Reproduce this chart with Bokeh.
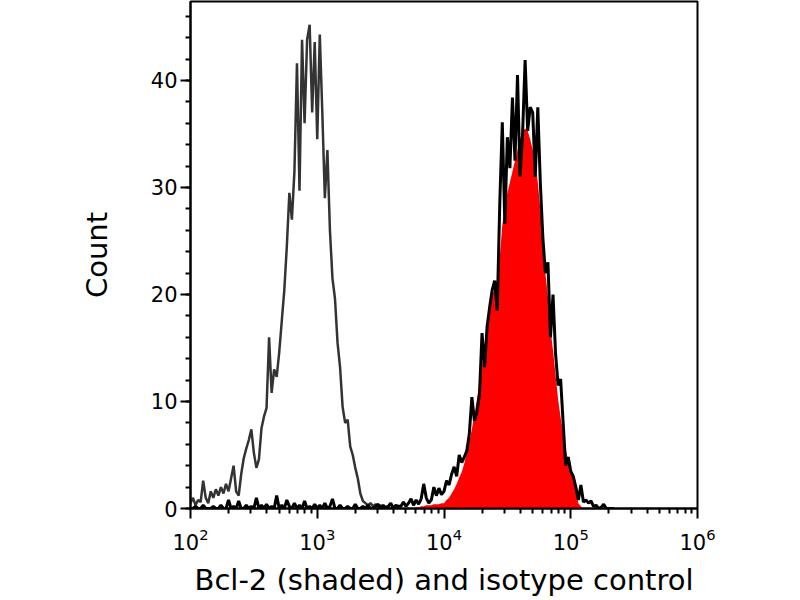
import numpy as np
from bokeh.plotting import figure
from bokeh.models import FixedTicker, SingleIntervalTicker
from bokeh.embed import file_html
from bokeh.resources import INLINE

# ---- data (counts per log-channel) ----
log_start = 2.0      # first channel at 10^2
log_step = 0.02      # channel width in decades

isotype_counts = [
    0.5, 1.0, 0.3, 0.8, 0.6, 2.6, 1.0, 0.5, 1.6, 1.0,
    1.8, 1.2, 2.0, 1.4, 2.3, 1.6, 2.8, 4.0, 1.6, 1.2,
    3.2, 4.7, 5.6, 6.4, 7.4, 5.2, 3.8, 4.6, 7.5, 8.6,
    9.4, 16.0, 10.8, 13.0, 12.3, 14.6, 17.5, 20.4, 24.5, 29.5,
    27.0, 31.5, 41.6, 29.7, 43.8, 36.0, 43.8, 45.2, 37.0, 43.6,
    34.5, 44.3, 37.0, 29.0, 33.5, 26.0, 21.5, 19.6, 15.5, 13.2,
    9.5, 8.0, 8.3, 5.8, 5.0, 3.8, 2.8, 1.4, 0.7, 0.5,
    0.3, 0.5, 0.2, 0.4, 0.1, 0.3, 0.0, 0.2, 0.1, 0.0,
    0.2, 0.0, 0.0,
]

bcl2_counts = [
    0.0, 0.0, 0.2, 0.0, 0.0, 0.3, 0.0, 0.0, 0.0, 0.2,
    0.0, 0.0, 0.3, 0.0, 0.0, 0.8, 0.0, 0.2, 0.0, 0.7,
    0.0, 0.0, 0.3, 0.0, 0.2, 0.0, 1.0, 0.0, 0.3, 0.0,
    0.4, 0.0, 0.2, 0.0, 1.2, 0.0, 0.3, 0.0, 0.8, 0.2,
    0.0, 0.5, 0.0, 0.3, 0.0, 0.7, 0.0, 0.2, 0.0, 0.4,
    0.0, 0.3, 0.0, 0.5, 0.0, 0.2, 0.9, 0.0, 0.0, 0.3,
    0.0, 0.0, 0.2, 0.0, 0.0, 0.4, 0.0, 0.0, 0.2, 0.0,
    0.3, 0.0, 0.0, 0.2, 0.4, 0.0, 0.3, 0.0, 0.2, 0.5,
    0.0, 0.3, 0.2, 0.2, 0.6, 0.2, 0.5, 0.9, 0.3, 0.8,
    0.4, 0.9, 2.3, 1.0, 0.5, 0.8, 2.0, 1.2, 1.9, 1.3,
    1.6, 2.6, 2.2, 3.2, 3.9, 3.0, 5.0, 4.3, 4.8, 5.4,
    7.0, 10.4, 8.2, 9.0, 10.7, 16.4, 13.2, 17.0, 18.8, 20.4,
    21.3, 18.5, 28.5, 36.1, 26.6, 34.7, 31.8, 38.4, 32.5, 40.5,
    31.0, 35.0, 41.9, 35.3, 37.5, 37.0, 31.0, 37.5, 30.4, 25.3,
    22.0, 23.0, 16.0, 20.0, 14.5, 11.5, 12.1, 8.0, 4.0, 4.8,
    3.5, 3.0, 2.0, 0.8, 2.2, 0.6, 0.8, 0.5, 0.7, 0.2,
    0.3, 0.0, 0.1, 0.4, 0.0, 0.0, 0.0, 0.0,
]

bcl2_fill_first = 88   # channel index where the shaded curve starts
bcl2_fill = [
    0.0, 0.1, 0.1, 0.2, 0.2, 0.3, 0.3, 0.3, 0.4, 0.4,
    0.4, 0.5, 0.5, 0.8, 1.0, 1.4, 1.8, 2.3, 2.9, 3.4,
    4.2, 5.2, 6.3, 7.4, 8.8, 10.2, 11.8, 13.4, 15.0, 16.6,
    18.5, 20.0, 20.5, 21.0, 23.5, 26.5, 28.0, 29.5, 30.5, 31.5,
    32.5, 33.5, 34.5, 35.2, 35.5, 35.3, 34.5, 33.5, 32.0, 30.5,
    28.0, 25.0, 22.0, 19.8, 16.8, 14.8, 12.5, 10.2, 8.5, 7.0,
    5.5, 4.5, 3.8, 2.8, 1.6, 0.5, 0.2, 0.0,
]

x_ticks = [1e2, 1e3, 1e4, 1e5, 1e6]
y_tick_interval = 10

# ---- positions of channels ----
x_iso = 10 ** (log_start + log_step * np.arange(len(isotype_counts)))
x_bcl = 10 ** (log_start + log_step * np.arange(len(bcl2_counts)))
x_fill = 10 ** (log_start + log_step * (bcl2_fill_first + np.arange(len(bcl2_fill))))

FONT = "DejaVu Sans"

p = figure(
    x_axis_type="log", x_range=(1e2, 1e6), y_range=(0, 47.38),
    frame_width=507, frame_height=507,
    min_border_left=190, min_border_top=1, min_border_right=90, min_border_bottom=80,
    output_backend="svg", toolbar_location=None,
    background_fill_color="white", border_fill_color="white",
)
p.outline_line_color = "black"
p.outline_line_width = 2
p.xgrid.visible = False
p.ygrid.visible = False

p.line(x_iso, isotype_counts, line_color="#333333", line_width=2.5)
p.varea(x=x_fill, y1=np.zeros(len(bcl2_fill)), y2=bcl2_fill, fill_color="#ff0000")
p.line(x_bcl, bcl2_counts, line_color="black", line_width=3)

minor = [m * t for t in x_ticks[:-1] for m in range(2, 10)]
p.xaxis.ticker = FixedTicker(ticks=x_ticks, minor_ticks=minor)
p.yaxis.ticker = SingleIntervalTicker(interval=y_tick_interval, num_minor_ticks=5)

for ax in (p.xaxis[0], p.yaxis[0]):
    ax.axis_line_width = 2
    ax.axis_line_color = "black"
    ax.major_tick_line_width = 2
    ax.minor_tick_line_width = 2
    ax.major_tick_in = 0
    ax.major_tick_out = 10
    ax.minor_tick_in = 0
    ax.minor_tick_out = 5
    ax.major_label_text_font = FONT
    ax.major_label_text_font_size = "21px"
    ax.major_label_text_color = "black"
    ax.axis_label_text_font = FONT
    ax.axis_label_text_font_size = "29px"
    ax.axis_label_text_font_style = "normal"
    ax.axis_label_text_color = "black"

p.yaxis.axis_label = "Count"
p.yaxis.major_label_standoff = 3
p.yaxis.axis_label_standoff = 34
p.xaxis.axis_label = "Bcl-2 (shaded) and isotype control"
p.xaxis.major_label_standoff = 9
p.xaxis.axis_label_standoff = 10

open("out.html", "w").write(file_html(p, INLINE))
